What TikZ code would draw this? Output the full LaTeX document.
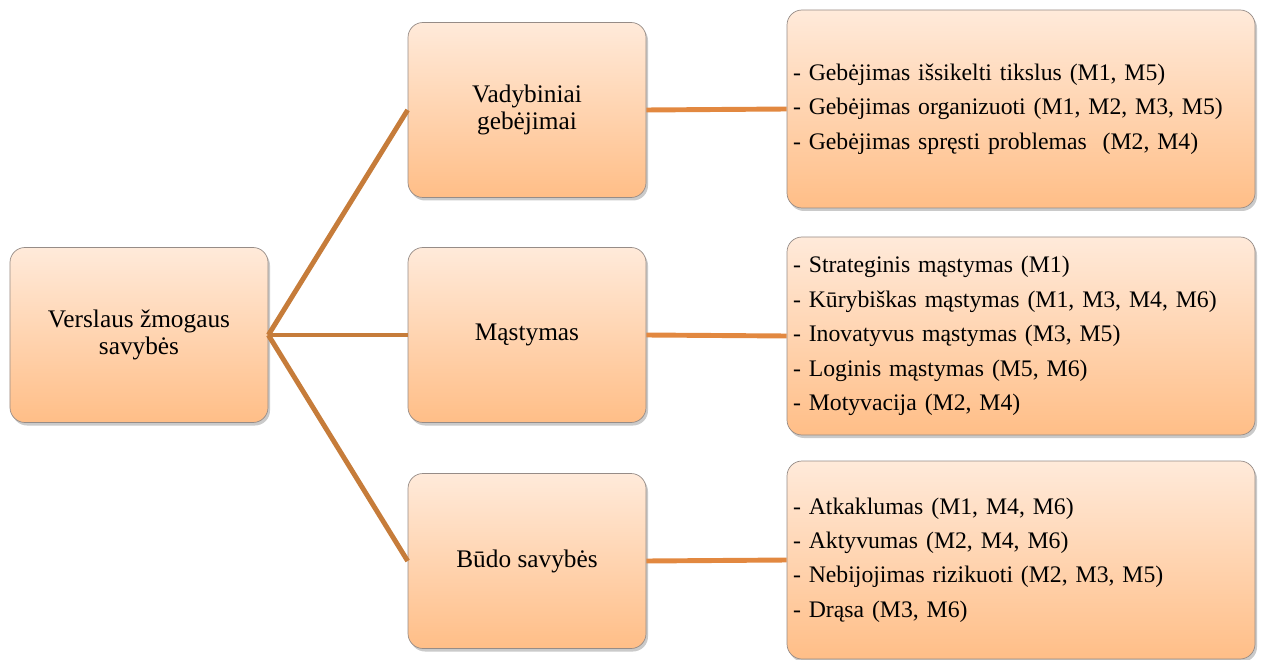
\documentclass[tikz,border=0pt]{standalone}
\usepackage{fontspec}
\setmainfont{Liberation Serif}
\usetikzlibrary{shadows}
\definecolor{boxtop}{RGB}{255,234,218}
\definecolor{boxbottom}{RGB}{255,190,135}
\definecolor{boxline}{RGB}{150,140,135}
\definecolor{branchcol}{RGB}{198,124,58}
\definecolor{linkcol}{RGB}{226,136,64}
\begin{document}
\begin{tikzpicture}

    % Styles
    \tikzstyle{card} = [rectangle, rounded corners=0.3cm, draw=boxline, line width=0.4pt, top color=boxtop, bottom color=boxbottom, drop shadow={shadow xshift=0.04cm, shadow yshift=-0.06cm, opacity=0.35, fill=black!60}, font=\fontsize{14.4}{15.6}\selectfont]
    \tikzstyle{mainbox} = [card, minimum width=5.16cm, minimum height=3.5cm, align=center]
    \tikzstyle{groupbox} = [card, minimum width=4.76cm, minimum height=3.5cm, align=center]
    \tikzstyle{listbox} = [card, minimum width=9.36cm, minimum height=3.96cm, text width=9.12cm, inner xsep=0.12cm, align=left, font=\fontsize{13.5}{19.6}\selectfont]
    \tikzstyle{branch} = [draw=branchcol, line width=2.8pt]
    \tikzstyle{link} = [draw=linkcol, line width=2.8pt]

    \useasboundingbox (0,0) rectangle (25.24,-13.2);

    % Nodes
    \node (root) [mainbox] at (2.78,-6.70) {Verslaus žmogaus\\savybės};
    \node (vad) [groupbox] at (10.54,-2.20) {Vadybiniai\\gebėjimai};
    \node (mast) [groupbox] at (10.54,-6.70) {Mąstymas};
    \node (budo) [groupbox] at (10.54,-11.22) {Būdo savybės};
    \node (vadlist) [listbox] at (20.42,-2.18) {- Gebėjimas išsikelti tikslus (M1, M5)\\- Gebėjimas organizuoti (M1, M2, M3, M5)\\- Gebėjimas spręsti problemas~ (M2, M4)};
    \node (mastlist) [listbox] at (20.42,-6.72) {- Strateginis mąstymas (M1)\\- Kūrybiškas mąstymas (M1, M3, M4, M6)\\- Inovatyvus mąstymas (M3, M5)\\- Loginis mąstymas (M5, M6)\\- Motyvacija (M2, M4)};
    \node (budolist) [listbox] at (20.42,-11.20) {- Atkaklumas (M1, M4, M6)\\- Aktyvumas (M2, M4, M6)\\- Nebijojimas rizikuoti (M2, M3, M5)\\- Drąsa (M3, M6)};

    % Lines
    \draw [branch] (root.east) -- (vad.west);
    \draw [branch] (root.east) -- (mast.west);
    \draw [branch] (root.east) -- (budo.west);
    \draw [link] (vad.east) -- (vadlist.west);
    \draw [link] (mast.east) -- (mastlist.west);
    \draw [link] (budo.east) -- (budolist.west);
\end{tikzpicture}
\end{document}
